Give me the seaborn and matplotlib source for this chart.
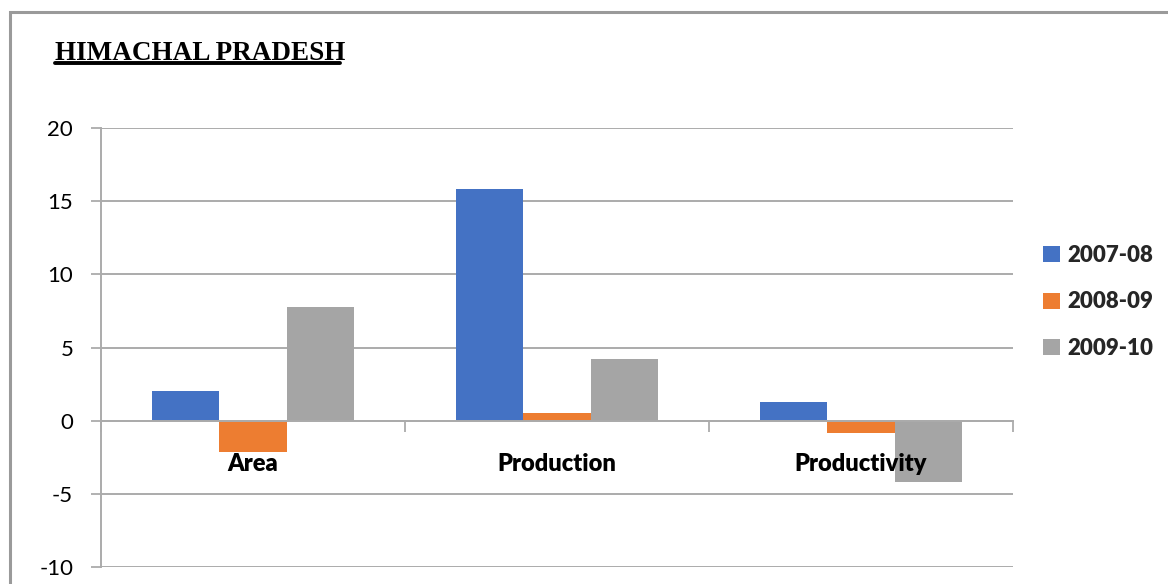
import matplotlib
matplotlib.use("Agg")
import matplotlib.pyplot as plt
from matplotlib.lines import Line2D
from matplotlib.patches import Rectangle
import seaborn as sns
import pandas as pd

# Growth rates (%) by indicator and year
categories = ["Area", "Production", "Productivity"]
years = ["2007-08", "2008-09", "2009-10"]
growth_2007_08 = [2.0, 15.8, 1.3]
growth_2008_09 = [-2.15, 0.5, -0.85]
growth_2009_10 = [7.8, 4.2, -4.2]
colors = ["#4472C4", "#ED7D31", "#A5A5A5"]
title = "HIMACHAL PRADESH"

rows = []
for year, vals in zip(years, [growth_2007_08, growth_2008_09, growth_2009_10]):
    for cat, v in zip(categories, vals):
        rows.append({"category": cat, "year": year, "value": v})
df = pd.DataFrame(rows)

sns.set_theme(style="white")
plt.rcParams["font.family"] = ["Lato", "DejaVu Sans"]

W, H = 1168, 584
fig = plt.figure(figsize=(W / 100, H / 100), dpi=100)
fig.patch.set_facecolor("white")

# axes rectangle in pixel terms
x0, x1, y_top, y_bot = 101, 1013, 128, 567
ax = fig.add_axes([x0 / W, 1 - y_bot / H, (x1 - x0) / W, (y_bot - y_top) / H])

sns.barplot(data=df, x="category", y="value", hue="year", order=categories,
            hue_order=years, palette=colors, saturation=1, width=0.667,
            edgecolor="none", linewidth=0, ax=ax, legend=False)

grid_c = "#ababab"
ax.set_ylim(-10, 20)
ax.set_xlim(-0.5, 2.5)
ax.set_yticks([-10, -5, 0, 5, 10, 15, 20])
ax.set_yticklabels(["-10", "-5", "0", "5", "10", "15", "20"])
ax.yaxis.grid(True, color=grid_c, linewidth=1.4)
ax.set_axisbelow(True)
ax.tick_params(axis="y", length=7, width=1.3, color=grid_c, labelsize=16,
               labelcolor="#000000", pad=13, left=True)
ax.set_xlabel("")
ax.set_ylabel("")

for s in ["top", "right"]:
    ax.spines[s].set_visible(False)
ax.spines["left"].set_color(grid_c)
ax.spines["left"].set_linewidth(1.4)
ax.spines["bottom"].set_position(("data", 0))
ax.spines["bottom"].set_color(grid_c)
ax.spines["bottom"].set_linewidth(1.4)

# category boundary ticks on the zero line
ax.set_xticks([-0.5, 0.5, 1.5, 2.5])
ax.set_xticklabels([])
ax.tick_params(axis="x", length=8, width=1.3, color=grid_c, bottom=True)

# category names sit below the zero line, drawn over the bars
for i, cat in enumerate(categories):
    ax.annotate(cat, xy=(i, 0), xytext=(0, -31), textcoords="offset points",
                ha="center", va="center", fontsize=17, fontweight="heavy",
                color="#000000", zorder=5, annotation_clip=False)

# legend
handles = [Rectangle((0, 0), 1, 1, facecolor=c, edgecolor="none") for c in colors]
leg = fig.legend(handles, years, loc="center left",
                 bbox_to_anchor=(1023 / W, 1 - 302 / H), frameon=False,
                 prop={"family": ["Lato", "DejaVu Sans"], "weight": "heavy", "size": 16},
                 handlelength=0.75, handleheight=0.75, handletextpad=0.35,
                 labelspacing=1.15)

# title with underline
t = fig.text(55 / W, 1 - 60 / H, title, fontfamily="Liberation Serif",
             fontweight="bold", fontsize=19.5, ha="left", va="baseline",
             color="#000000")
fig.add_artist(Line2D([55 / W, 340 / W], [1 - 63 / H, 1 - 63 / H],
                      color="#000000", linewidth=2.8, transform=fig.transFigure))

# outer frame (top and left edges visible)
fig.add_artist(Rectangle((10 / W, -0.1), 1.2, 1 - 12 / H + 0.1, fill=False,
                         edgecolor="#9a9a9a", linewidth=2.2,
                         transform=fig.transFigure))

fig.savefig("out.png", dpi=100, facecolor="white")
